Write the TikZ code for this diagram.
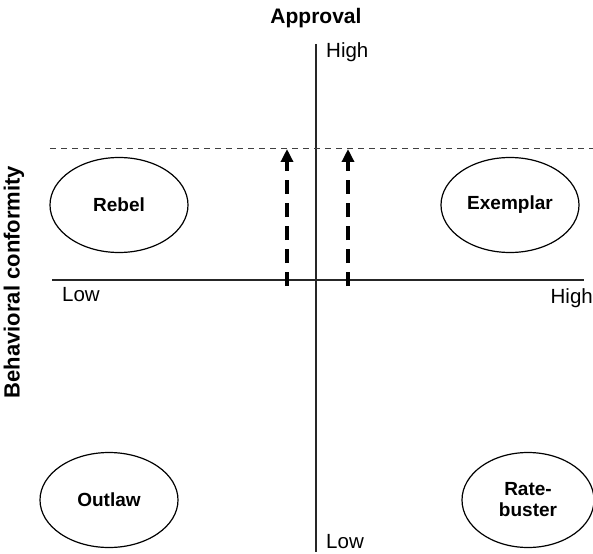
\documentclass[tikz,border=0pt]{standalone}
\usepackage{fontspec}
\setmainfont{Liberation Sans}
\usetikzlibrary{arrows.meta,shapes.geometric}
\begin{document}
\begin{tikzpicture}[x=1pt,y=-1pt,
  axis/.style={line width=1.3pt,draw=black!85},
  quad/.style={ellipse,draw,line width=1.2pt,minimum width=138pt,minimum height=95pt,inner sep=0pt,font=\fontsize{19}{21}\selectfont\bfseries,align=center},
  lbl/.style={font=\fontsize{20.5}{22}\selectfont,inner sep=0pt},
  bigarrow/.style={line width=4pt,dash pattern=on 14pt off 9pt,-{Triangle[length=13pt,width=12pt]}},
  topdash/.style={line width=1pt,draw=black!75,dash pattern=on 6pt off 5pt}
]
\useasboundingbox (0,0) rectangle (593,553);
% axes
\coordinate (vtop) at (316,44);
\coordinate (vbot) at (316,552);
\coordinate (hl) at (52,280);
\coordinate (hr) at (584,280);
\draw[axis] (vtop) -- (vbot);
\draw[axis] (hl) -- (hr);
% dashed top line
\coordinate (dl) at (50,149);
\coordinate (dr) at (593,149);
\draw[topdash] (dl) -- (dr);
% arrows
\coordinate (a1s) at (287,286);
\coordinate (a1e) at (287,149);
\coordinate (a2s) at (348,286);
\coordinate (a2e) at (348,149);
\draw[bigarrow] (a1s) -- (a1e);
\draw[bigarrow] (a2s) -- (a2e);
% labels
\node[font=\fontsize{21}{23}\selectfont\bfseries,inner sep=0pt] (approval) at (316,18) {Approval};
\node[lbl,anchor=west] (vhigh) at (326,52) {High};
\node[lbl,anchor=west] (vlow) at (326,542) {Low};
\node[lbl,anchor=west] (hlow) at (62,295) {Low};
\node[lbl,anchor=east] (hhigh) at (593,298) {High};
\node[font=\fontsize{22}{24}\selectfont\bfseries,inner sep=0pt,rotate=90] (behav) at (14,282) {Behavioral conformity};
% quadrant ellipses
\node[quad] (rebel) at (119,205) {Rebel};
\node[quad] (exemplar) at (510,205) {Exemplar};
\node[quad] (outlaw) at (109,500) {Outlaw};
\node[quad,minimum width=132pt] (ratebuster) at (528,500) {Rate-\\buster};
\end{tikzpicture}
\end{document}
